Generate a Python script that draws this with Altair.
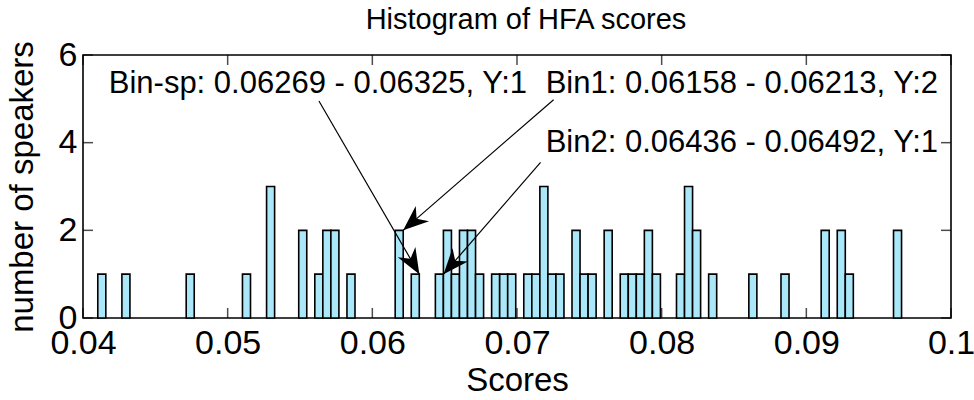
import math
import altair as alt
import pandas as pd

# Histogram of HFA scores: 100 equal-width bins between the min and max score
hist_min = 0.041022
bin_width = 0.0005556
n_bins = 100

# non-empty bins (index from the left) and their speaker counts
bin_index = [0, 3, 11, 18, 21, 25, 27, 28, 29, 31, 37, 39, 42, 43, 44, 45, 46, 47,
             49, 50, 51, 53, 54, 55, 56, 57, 59, 60, 61, 63, 65, 66, 67, 68, 69,
             72, 73, 74, 76, 81, 85, 90, 92, 93, 99]
bin_count = [1, 1, 1, 1, 3, 2, 1, 2, 2, 1, 2, 1, 1, 2, 1, 2, 2, 1,
             1, 1, 1, 1, 1, 3, 1, 1, 2, 1, 1, 2, 1, 1, 1, 2, 1,
             1, 3, 2, 1, 1, 1, 2, 2, 1, 2]

x_ticks = [0.04, 0.05, 0.06, 0.07, 0.08, 0.09, 0.10]
y_ticks = [0, 2, 4, 6]

# data-tip style annotations
tip_text = ["Bin-sp: 0.06269 - 0.06325, Y:1",
            "Bin1: 0.06158 - 0.06213, Y:2",
            "Bin2: 0.06436 - 0.06492, Y:1"]
tip_text_x = [0.04178, 0.07198, 0.07198]
tip_text_y = [5.14, 5.14, 3.79]
arrow_from_x = [0.05631, 0.07253, 0.07163]
arrow_from_y = [4.95, 4.98, 3.55]
arrow_to_x = [0.06325, 0.06213, 0.06492]
arrow_to_y = [1, 2, 1]

W, H = 868, 263
X_DOM = [0.04, 0.1]
Y_DOM = [0, 6]
FONT = "Liberation Sans"

bars = pd.DataFrame({
    "start": [hist_min + k * bin_width for k in bin_index],
    "end": [hist_min + (k + 1) * bin_width for k in bin_index],
    "count": bin_count,
})

sx = W / (X_DOM[1] - X_DOM[0])
sy = H / (Y_DOM[1] - Y_DOM[0])
angles = []
for x0, y0, x1, y1 in zip(arrow_from_x, arrow_from_y, arrow_to_x, arrow_to_y):
    dxp = (x1 - x0) * sx
    dyp = -(y1 - y0) * sy
    angles.append(math.degrees(math.atan2(dxp, -dyp)) % 360)

notes = pd.DataFrame({
    "label": tip_text, "tx": tip_text_x, "ty": tip_text_y,
    "x0": arrow_from_x, "y0": arrow_from_y,
    "x1": arrow_to_x, "y1": arrow_to_y, "angle": angles,
})

xs = alt.Scale(domain=X_DOM, nice=False, zero=False)
ys = alt.Scale(domain=Y_DOM, nice=False)
x_axis = alt.Axis(values=x_ticks, format=".2~f", title="Scores",
                  labelFlush=False, labelOverlap=False,
                  titleX=W / 2, titleY=62, titleBaseline="middle")
y_axis = alt.Axis(values=y_ticks, format="d", title="number of speakers",
                  labelFlush=False, labelOverlap=False,
                  titleX=-61, titleY=H / 2, titleAngle=-90,
                  titleBaseline="middle", titleAlign="center")


def X(field):
    return alt.X(field, scale=xs, axis=x_axis, title="Scores")


def Y(field):
    return alt.Y(field, scale=ys, axis=y_axis, title="number of speakers")


bar_layer = alt.Chart(bars).mark_rect(
    fill="#A9E7F9", stroke="black", strokeWidth=1.6
).encode(x=X("start:Q"), x2="end:Q", y=Y("count:Q"), y2=alt.datum(0))

xt = pd.DataFrame({"v": x_ticks})
yt = pd.DataFrame({"v": y_ticks})
TL = 10
tick_style = dict(size=TL, thickness=1.5, color="black")
x_tick_bottom = alt.Chart(xt).mark_tick(orient="vertical", **tick_style).encode(
    x=X("v:Q"), y=alt.value(H - TL / 2))
x_tick_top = alt.Chart(xt).mark_tick(orient="vertical", **tick_style).encode(
    x=X("v:Q"), y=alt.value(TL / 2))
y_tick_left = alt.Chart(yt).mark_tick(orient="horizontal", **tick_style).encode(
    y=Y("v:Q"), x=alt.value(TL / 2))
y_tick_right = alt.Chart(yt).mark_tick(orient="horizontal", **tick_style).encode(
    y=Y("v:Q"), x=alt.value(W - TL / 2))

shafts = alt.Chart(notes).mark_rule(color="black", strokeWidth=1.2).encode(
    x=X("x0:Q"), y=Y("y0:Q"), x2="x1:Q", y2="y1:Q")

heads = alt.Chart(notes).mark_point(
    shape="M0,0 L0.4,1 L0,0.7 L-0.4,1 Z", size=2600,
    filled=True, color="black", opacity=1
).encode(x=X("x1:Q"), y=Y("y1:Q"), angle=alt.Angle("angle:Q", scale=None))

labels = alt.Chart(notes).mark_text(
    align="left", baseline="alphabetic", fontSize=31, font=FONT, color="black"
).encode(x=X("tx:Q"), y=Y("ty:Q"), text="label:N")

chart = alt.layer(
    bar_layer, x_tick_bottom, x_tick_top, y_tick_left, y_tick_right,
    shafts, heads, labels
).properties(
    width=W, height=H,
    autosize=alt.AutoSizeParams(type="none"),
    padding={"left": 83, "top": 55, "right": 23, "bottom": 82},
    background="white",
    title=alt.TitleParams("Histogram of HFA scores", fontSize=29, font=FONT,
                          fontWeight="normal", color="black", anchor="middle",
                          offset=3, dx=9),
).configure_view(
    stroke="black", strokeWidth=1.6
).configure_axis(
    grid=False, ticks=False, domain=False,
    labelFont=FONT, labelFontSize=34, labelColor="black",
    titleFont=FONT, titleFontSize=33, titleFontWeight="normal", titleColor="black",
).configure_axisX(labelPadding=8).configure_axisY(labelPadding=6)

chart.save("out.html", embed_options={"renderer": "svg", "actions": False})
